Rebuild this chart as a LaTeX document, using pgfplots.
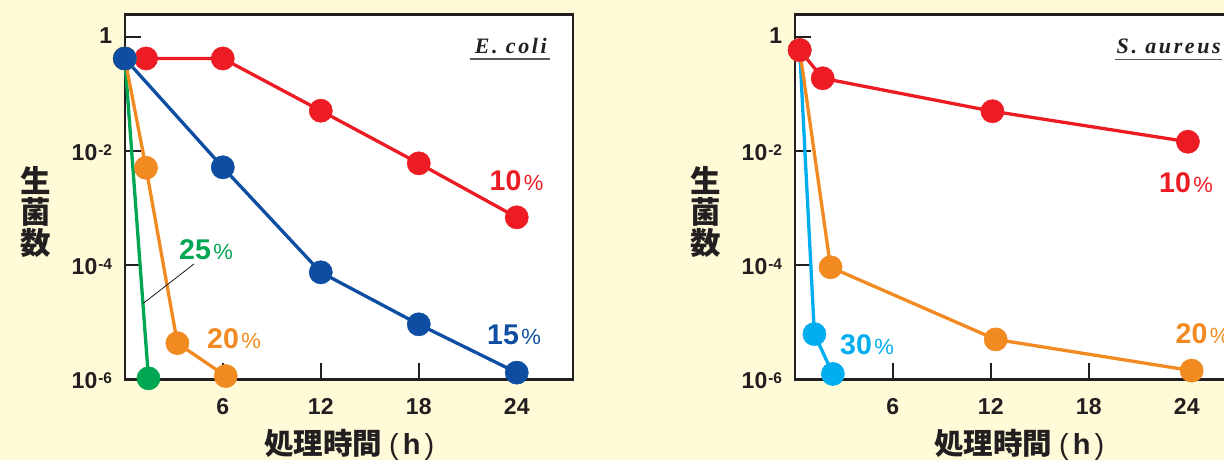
\documentclass[border=0pt]{standalone}
\usepackage{fontspec}
\usepackage{pgfplots}
\pgfplotsset{compat=1.18}
\setmainfont{Liberation Sans}
\newfontfamily\cjk{Noto Sans CJK JP}
\newfontfamily\spserif[LetterSpace=12]{Liberation Serif}
\definecolor{bg}{HTML}{FFFAD7}
\definecolor{axiscol}{HTML}{231F20}
\definecolor{red1}{HTML}{ED1C24}
\definecolor{blue1}{HTML}{0D4EA2}
\definecolor{orange1}{HTML}{F18A21}
\definecolor{green1}{HTML}{00A651}
\definecolor{cyan1}{HTML}{00AEEF}
\newcommand{\tickfont}{\fontsize{23}{23}\selectfont\bfseries}
\newcommand{\tenpow}[1]{10\hspace{1pt}\raisebox{5pt}{\fontsize{15.5}{15.5}\selectfont #1}}
\newcommand{\pct}[1]{{\fontsize{28.5}{28.5}\selectfont\bfseries #1}\hspace{2.5pt}{\fontsize{22}{22}\selectfont\%}}
\begin{document}
\begin{tikzpicture}
\useasboundingbox (0,0) rectangle (1224pt,460pt);
\clip (0,0) rectangle (1224pt,460pt);
\fill[bg] (0,0) rectangle (1224pt,460pt);
% left panel: E. coli
\begin{axis}[at={(124.8pt,80.7pt)},
  scale only axis, width=448.3pt, height=364.8pt, anchor=south west,
  ymode=log, xmin=0, xmax=27.45, ymin=1e-6, ymax=2.48,
  xtick={6,12,18,24}, xticklabels={6,12,18,24},
  ytick={1,1e-2,1e-4,1e-6},
  yticklabels={{\raisebox{3pt}{1}\hspace{9pt}},{\tenpow{-2}},{\tenpow{-4}},{\tenpow{-6}}},
  minor tick num=0, yminorticks=false,
  xtick pos=left, ytick pos=left, tick align=inside,
  major tick length=16pt,
  axis line style={line width=2.4pt, draw=axiscol},
  tick style={line width=2.2pt, draw=axiscol},
  axis background/.style={fill=white},
  clip=false,
  ticklabel style={font=\tickfont, text=axiscol, inner sep=0pt},
  xticklabel style={anchor=base, yshift=-35pt},
  yticklabel style={anchor=base east, xshift=-12.5pt, yshift=-9pt},
  every axis plot/.append style={line width=3.3pt, mark=*, mark size=11.6pt, mark options={solid, line width=0.5pt}},
]
\addplot[red1] coordinates {(0,0.42)(1.3,0.42)(6,0.42)(12,0.051)(18,0.0061)(24,0.00069)};
\addplot[green1] coordinates {(0,0.42)(1.45,1.04e-6)};
\addplot[orange1] coordinates {(0,0.42)(1.3,0.0051)(3.22,4.3e-6)(6.18,1.14e-6)};
\addplot[blue1] coordinates {(0,0.42)(6,0.0052)(12,7.5e-5)(18,9.2e-6)(24,1.31e-6)};
\end{axis}
% right panel: S. aureus
\begin{axis}[at={(794.8pt,80.7pt)},
  scale only axis, width=448.3pt, height=364.8pt, anchor=south west,
  ymode=log, xmin=0, xmax=27.45, ymin=1e-6, ymax=2.48,
  xtick={6,12,18,24}, xticklabels={6,12,18,24},
  ytick={1,1e-2,1e-4,1e-6},
  yticklabels={{\raisebox{3pt}{1}\hspace{9pt}},{\tenpow{-2}},{\tenpow{-4}},{\tenpow{-6}}},
  minor tick num=0, yminorticks=false,
  xtick pos=left, ytick pos=left, tick align=inside,
  major tick length=16pt,
  axis line style={line width=2.4pt, draw=axiscol},
  tick style={line width=2.2pt, draw=axiscol},
  axis background/.style={fill=white},
  clip=false,
  ticklabel style={font=\tickfont, text=axiscol, inner sep=0pt},
  xticklabel style={anchor=base, yshift=-35pt},
  yticklabel style={anchor=base east, xshift=-12.5pt, yshift=-9pt},
  every axis plot/.append style={line width=3.3pt, mark=*, mark size=11.6pt, mark options={solid, line width=0.5pt}},
]
\addplot[cyan1] coordinates {(0.3,0.59)(1.2,6.2e-6)(2.33,1.24e-6)};
\addplot[orange1] coordinates {(0.3,0.59)(2.19,9.2e-5)(12.3,5.0e-6)(24.3,1.42e-6)};
\addplot[red1] coordinates {(0.3,0.59)(1.71,0.189)(12.1,0.050)(24.07,0.0146)};
\end{axis}
% axis titles
\foreach \dx in {0,670}{
  \node[inner sep=0pt, align=center, font=\cjk\bfseries\fontsize{30.5}{31}\selectfont, text=axiscol] at ({36pt+\dx pt},248.3pt) {生\\菌\\数};
  \node[inner sep=0pt, anchor=base west, text=axiscol] at ({264pt+\dx pt},5pt) {{\cjk\bfseries\fontsize{29.5}{29.5}\selectfont 処理時間}\hspace{7pt}{\fontsize{29}{29}\selectfont (\hspace{4pt}\textbf{h}\hspace{4pt})}};
}
% species labels
\node[anchor=base east, inner sep=0pt, text=axiscol, font=\spserif\bfseries\itshape\fontsize{22}{22}\selectfont] at (547pt,406.7pt) {E. coli};
\draw[line width=1.3pt, draw=axiscol!75] (470pt,401pt) -- (549.5pt,401pt);
\node[anchor=base east, inner sep=0pt, text=axiscol, font=\spserif\bfseries\itshape\fontsize{22}{22}\selectfont] at (1221pt,406.7pt) {S. aureus};
\draw[line width=1.3pt, draw=axiscol!75] (1115pt,400.7pt) -- (1222pt,400.7pt);
% concentration labels
\node[anchor=base west, inner sep=0pt, text=red1] at (489.5pt,269.3pt) {\pct{10}};
\node[anchor=base west, inner sep=0pt, text=blue1] at (487pt,115pt) {\pct{15}};
\node[anchor=base west, inner sep=0pt, text=orange1] at (207pt,111.7pt) {\pct{20}};
\node[anchor=base west, inner sep=0pt, text=green1] at (179pt,200.7pt) {\pct{25}};
\draw[line width=0.7pt, black] (194pt,196pt) -- (143.3pt,156.7pt);
\node[anchor=base west, inner sep=0pt, text=red1] at (1159pt,267.7pt) {\pct{10}};
\node[anchor=base west, inner sep=0pt, text=orange1] at (1175.5pt,116.7pt) {\pct{20}};
\node[anchor=base west, inner sep=0pt, text=cyan1] at (840pt,105pt) {\pct{30}};
\end{tikzpicture}
\end{document}
